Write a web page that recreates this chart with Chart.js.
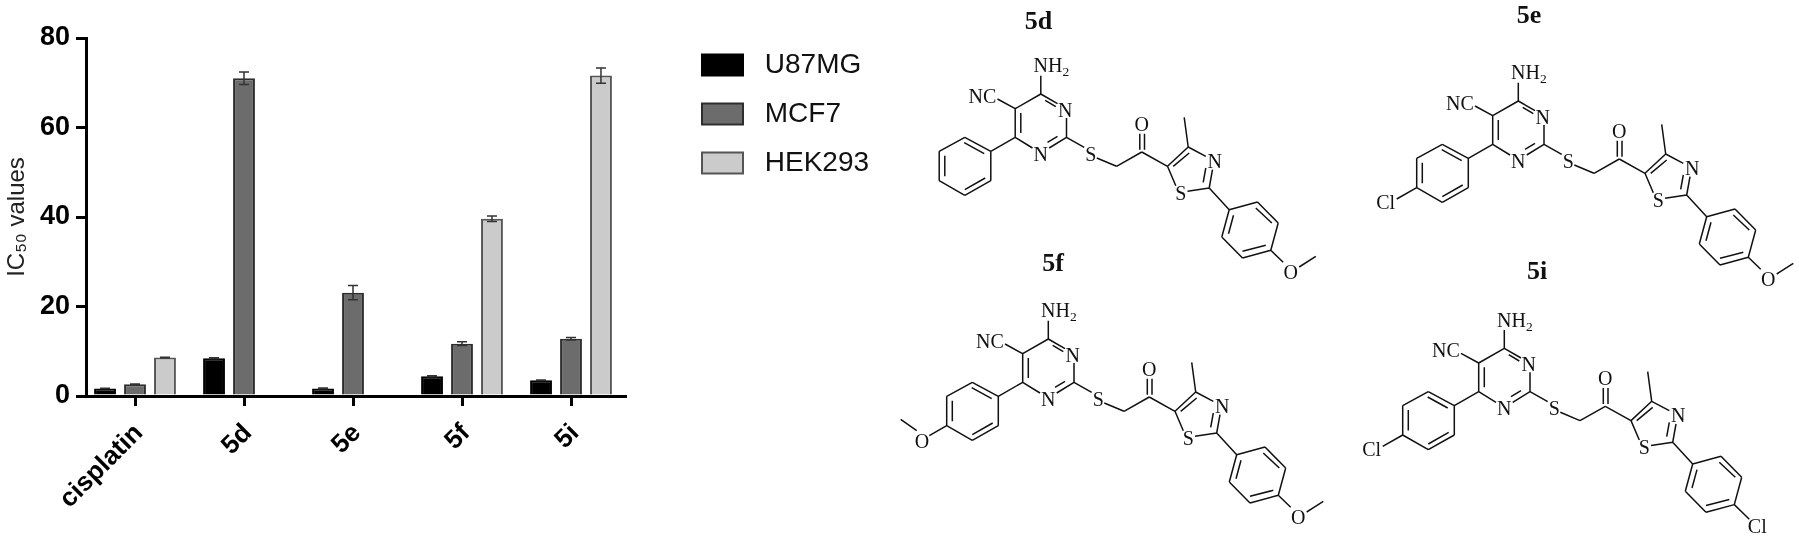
<!DOCTYPE html>
<html><head><meta charset="utf-8">
<style>
html,body{margin:0;padding:0;background:#fff;width:1799px;height:539px;overflow:hidden}
#c{position:absolute;left:0;top:0;filter:blur(0.7px)}
#m{position:absolute;left:0;top:0;pointer-events:none}
#m text{font-family:"Liberation Serif",serif;fill:#111}
</style>
<script src="https://cdn.jsdelivr.net/npm/chart.js@4"></script>
</head><body>
<canvas id="c" width="900" height="539"></canvas>
<svg id="m" width="1799" height="539" xmlns="http://www.w3.org/2000/svg"></svg>
<script>
const categories = ['cisplatin','5d','5e','5f','5i'];
const yTicks = [0,20,40,60,80];
const u87mg  = [1.7, 8.45, 1.7, 4.4, 3.5];
const mcf7   = [2.6, 71.0, 23.1, 11.7, 12.8];
const hek293 = [8.6, null, null, 39.6, 71.6];
const u87mgErr  = [0.05, 0.1, 0.1, 0.1, 0.05];
const mcf7Err   = [0.1, 1.4, 1.6, 0.4, 0.3];
const hek293Err = [0.05, null, null, 0.6, 1.7];

const errorBars = {
  id:'errorBars',
  afterDatasetsDraw(chart){
    const ctx=chart.ctx, y=chart.scales.y;
    chart.data.datasets.forEach((d,i)=>{
      chart.getDatasetMeta(i).data.forEach((bar,j)=>{
        const v=d.data[j], e=d.errors[j];
        if(v==null||e==null) return;
        const t=y.getPixelForValue(v+e), b=y.getPixelForValue(v-e);
        ctx.save();ctx.strokeStyle='#333';ctx.lineWidth=1.5;ctx.beginPath();
        ctx.moveTo(bar.x,t);ctx.lineTo(bar.x,b);
        ctx.moveTo(bar.x-5,t);ctx.lineTo(bar.x+5,t);
        ctx.moveTo(bar.x-5,b);ctx.lineTo(bar.x+5,b);
        ctx.stroke();ctx.restore();
      });
    });
  }
};
// The value axis sits a little inside the first category's band, as in the source figure.
const insetAxis = {
  id:'insetAxis',
  beforeDatasetsUpdate(chart){
    const x=chart.scales.x, step=109;
    x._valueRange=x.width/step;
    x._startValue=-49/step;
  }
};
const placeLegend = {
  id:'placeLegend',
  afterLayout(chart){
    const l=chart.legend;
    l.left=681;l.right=890;l.top=30;l.bottom=230;
  },
};
new Chart(document.getElementById('c'),{
  type:'bar',
  data:{labels:categories,datasets:[
    {label:'U87MG',data:u87mg,errors:u87mgErr,backgroundColor:'#000',borderColor:'#000',borderWidth:2},
    {label:'MCF7',data:mcf7,errors:mcf7Err,backgroundColor:'#6c6c6c',borderColor:'#2e2e2e',borderWidth:2},
    {label:'HEK293',data:hek293,errors:hek293Err,backgroundColor:'#cbcbcb',borderColor:'#555',borderWidth:2}
  ]},
  options:{
    responsive:false,animation:false,
    layout:{padding:{top:38,right:275,bottom:0,left:0}},
    datasets:{bar:{categoryPercentage:0.825,barPercentage:0.73}},
    plugins:{
      tooltip:{enabled:false},
      legend:{position:'chartArea',align:'start',
        labels:{boxWidth:41,boxHeight:21,padding:21,color:'#111',
          font:{family:'"Liberation Sans"',size:28,lineHeight:1},
          generateLabels(chart){
            return chart.data.datasets.map((d,i)=>({text:' '+d.label,fillStyle:d.backgroundColor,strokeStyle:d.borderColor,lineWidth:2,datasetIndex:i,fontColor:'#111'}));
          }}}
    },
    scales:{
      x:{offset:true,
        afterFit(s){s.height=143;},
        grid:{offset:false,drawOnChartArea:false,drawTicks:true,tickLength:10,color:'#000',lineWidth:3},
        border:{color:'#000',width:3},
        ticks:{autoSkip:false,minRotation:45,maxRotation:45,padding:12,labelOffset:4,color:'#000',font:{family:'"Liberation Sans"',weight:'bold',size:26}}
      },
      y:{min:0,max:80,
        afterFit(s){s.width=86;},
        afterBuildTicks(s){s.ticks=yTicks.map(v=>({value:v}));},
        grid:{drawOnChartArea:false,drawTicks:true,tickLength:10,color:'#000',lineWidth:3},
        border:{color:'#000',width:3},
        ticks:{padding:6,color:'#000',font:{family:'"Liberation Sans"',weight:'bold',size:27}},
        title:{display:true,text:'IC\u2085\u2080 values',color:'#222',padding:{top:3,bottom:0},font:{family:'"Liberation Sans"',size:24,weight:'normal'}}
      }
    }
  },
  plugins:[errorBars,insetAxis,placeLegend]
});

/* Chemical structures beside the chart (figure artwork, not chart data). */
const coreBonds=[
 [535,303,535,248],[535,303,585,332],[548,322,580,341],[612,375,612,433],[612,433,560,465],[585,430,555,448],
 [510,465,458,433],[458,433,458,347],[475,420,475,360],[458,347,535,303],[458,347,405,318],
 [458,433,385,475],[385,475,307,433],[307,433,230,475],[230,475,230,563],[230,563,307,607],[307,607,385,563],[385,563,385,475],
 [305,449,365,482],[247,488,247,550],[307,590,368,555],
 [612,433,665,463],[703,495,762,520],[762,520,838,477],[832,470,832,422],[846,470,846,422],[838,477,915,520],
 [915,520,977,462],[932,520,980,480],[977,462,965,373],[977,462,1030,490],[1040,585,1050,530],[1022,568,1030,525],
 [915,520,940,578],[975,595,1040,585],[1040,585,1100,650],
 [1100,650,1185,627],[1185,627,1247,690],[1247,690,1225,772],[1225,772,1140,795],[1140,795,1078,732],[1078,732,1100,650],
 [1180,645,1228,690],[1140,775,1210,757],[1098,722,1113,667]
];
const coreLabels=[['N',608,352],['N',535,482],['S',685,483],['O',838,392],['N',1057,505],['S',955,600],['NC',360,308]];
const leftCl={bonds:[[230,563,170,597]],labels:[['Cl',137,606]]};
const leftOMe={bonds:[[230,563,178,593],[140,578,92,544]],labels:[['O',156,608]]};
const rightOMe={bonds:[[1225,772,1262,808],[1310,822,1360,790]],labels:[['O',1285,838]]};
const rightCl={bonds:[[1225,772,1270,816]],labels:[['Cl',1294,838]]};
const molecules=[
 {title:'5d',tx:1038.6,ty:29,dx:-477.5,dy:-7,parts:[rightOMe]},
 {title:'5e',tx:1529,ty:23,dx:0,dy:0,parts:[leftCl,rightOMe]},
 {title:'5f',tx:1053,ty:271,dx:-470,dy:238,parts:[leftOMe,rightOMe]},
 {title:'5i',tx:1537,ty:279,dx:-14,dy:247.3,parts:[leftCl,rightCl]}
];
let out='';
const X=(v,m)=>(1340+v/3+m.dx).toFixed(1), Y=(v,m)=>(v/3+m.dy).toFixed(1);
for(const m of molecules){
  out+=`<text x="${m.tx}" y="${m.ty}" text-anchor="middle" font-size="26" font-weight="bold">${m.title}</text>`;
  const bonds=coreBonds.concat(...m.parts.map(p=>p.bonds));
  const labels=coreLabels.concat(...m.parts.map(p=>p.labels));
  out+='<path fill="none" stroke="#111" stroke-width="1.5" d="'+bonds.map(b=>`M${X(b[0],m)} ${Y(b[1],m)}L${X(b[2],m)} ${Y(b[3],m)}`).join('')+'"/>';
  for(const l of labels) out+=`<text x="${X(l[1],m)}" y="${(+Y(l[2],m)+6.8).toFixed(1)}" text-anchor="middle" font-size="20">${l[0]}</text>`;
  out+=`<text x="${X(513,m)}" y="${(+Y(238,m)).toFixed(1)}" font-size="20">NH<tspan font-size="13.5" dy="4">2</tspan></text>`;
}
document.getElementById('m').innerHTML=out;
</script>
</body></html>
